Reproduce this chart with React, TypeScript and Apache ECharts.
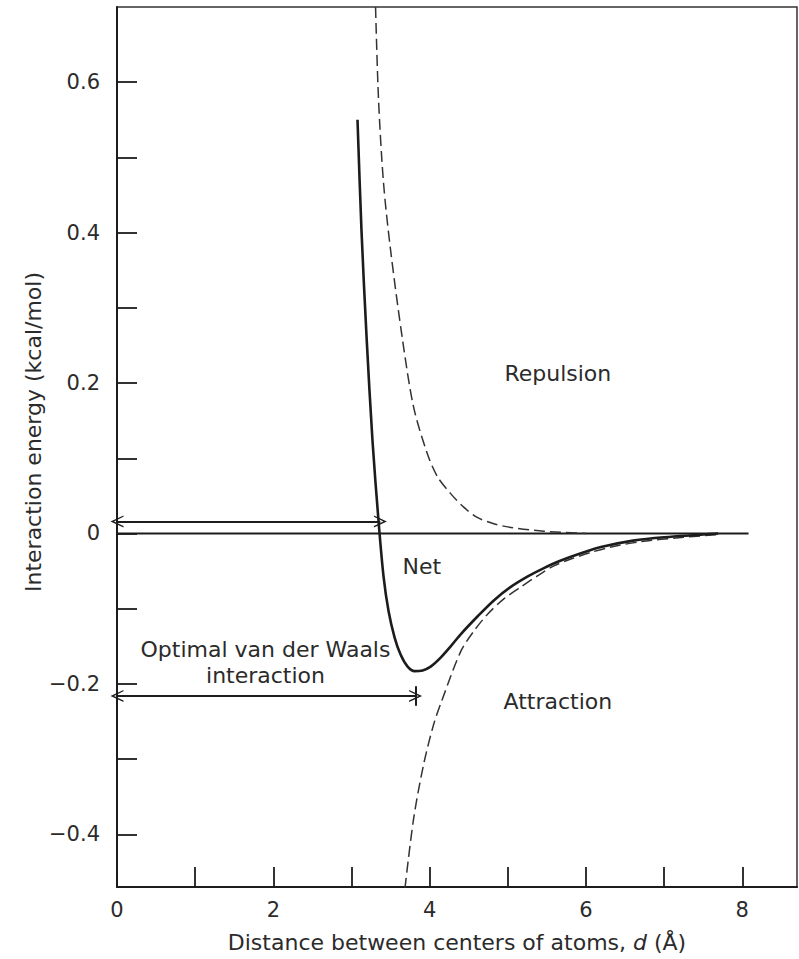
import React, { useEffect, useRef } from "react";
import * as echarts from "echarts";

// ---- data ----
const xTicks = [0, 1, 2, 3, 4, 5, 6, 7, 8];
const xTickLabels = [0, 2, 4, 6, 8];
const yTicks = [-0.4, -0.3, -0.2, -0.1, 0, 0.1, 0.2, 0.3, 0.4, 0.5, 0.6];
const yTickLabels = [-0.4, -0.2, 0, 0.2, 0.4, 0.6];

const netD = [3.077, 3.128, 3.192, 3.269, 3.346, 3.41, 3.474, 3.551, 3.628, 3.718, 3.808, 3.91, 4.013, 4.141, 4.269, 4.397, 4.615, 4.821, 5.038, 5.256, 5.462, 5.679, 5.974, 6.192, 6.603, 7.0, 7.692];
const netE = [0.55, 0.403, 0.263, 0.123, 0.0167, -0.057, -0.103, -0.138, -0.161, -0.177, -0.183, -0.182, -0.177, -0.165, -0.15, -0.134, -0.11, -0.089, -0.071, -0.057, -0.046, -0.036, -0.025, -0.018, -0.0095, -0.005, 0];

const repD = [3.308, 3.346, 3.41, 3.5, 3.654, 3.795, 3.974, 4.103, 4.269, 4.436, 4.615, 4.821, 5.038, 5.462, 6.0];
const repE = [0.7, 0.577, 0.466, 0.377, 0.257, 0.168, 0.105, 0.075, 0.053, 0.035, 0.021, 0.013, 0.008, 0.003, 0];

const attD = [3.684, 3.795, 3.923, 4.051, 4.167, 4.397, 4.564, 4.744, 4.949, 5.167, 5.385, 5.59, 5.808, 6.064, 6.321, 6.705, 7.218, 7.692];
const attE = [-0.472, -0.379, -0.307, -0.254, -0.219, -0.157, -0.13, -0.107, -0.087, -0.071, -0.056, -0.043, -0.034, -0.025, -0.018, -0.0107, -0.0053, -0.0013];

const zeroLineD = [0, 8.08];

// spans: [y, from, to]
const vdwSpan = [0.016, 0, 3.37];
const optimalSpan = [-0.216, 0, 3.82];
const optimalBar = [3.82, -0.203, -0.229];

const annotations: [number, number, string][] = [
  [5.64, 0.213, "Repulsion"],
  [3.9, -0.044, "Net"],
  [5.64, -0.223, "Attraction"],
  [1.9, -0.172, "Optimal van der Waals\ninteraction"],
];

const zip = (a: number[], b: number[]) => a.map((v, i) => [v, b[i]]);

const FONT = "DejaVu Sans";
const TXT = "#2b2b2b";
const INK = "#1c1c1c";
const CHEV = "path://M0,12 L6,0 L12,12 L10.6,12 L6,3.2 L1.4,12 Z";

const fmt = (v: number) => {
  if (Math.abs(v) < 1e-9) return "0";
  const s = Math.abs(v).toFixed(1);
  return v < 0 ? "\u2212" + s : s;
};

export default function App() {
  const ref = useRef<HTMLDivElement>(null);
  useEffect(() => {
    if (!ref.current) return;
    const chart = echarts.init(ref.current, undefined, { renderer: "svg" });
    const dashed = { color: "#333", width: 1.5, type: [11, 5] as any };
    chart.setOption({
      animation: false,
      backgroundColor: "#fff",
      textStyle: { fontFamily: FONT },
      grid: {
        left: 117,
        right: 2,
        top: 7,
        bottom: 72,
        show: true,
        borderColor: "#333",
        borderWidth: 1.5,
        backgroundColor: "transparent",
      },
      xAxis: {
        type: "value",
        min: 0,
        max: 8.7,
        name: "Distance between centers of atoms, {i|d} (\u00c5)",
        nameLocation: "middle",
        nameGap: 44,
        nameTextStyle: {
          fontFamily: FONT,
          fontSize: 22,
          color: TXT,
          rich: { i: { fontStyle: "italic", fontFamily: FONT, fontSize: 22, color: TXT } },
        },
        axisLine: { onZero: false, lineStyle: { color: INK, width: 2 } },
        axisTick: { inside: true, length: 20, customValues: xTicks, lineStyle: { color: INK, width: 1.8 } },
        axisLabel: {
          customValues: xTickLabels,
          margin: 12,
          fontSize: 21,
          color: TXT,
          fontFamily: FONT,
          formatter: (v: number) => String(Math.round(v)),
        },
        splitLine: { show: false },
      },
      yAxis: {
        type: "value",
        min: -0.47,
        max: 0.7,
        axisLine: { onZero: false, lineStyle: { color: INK, width: 2 } },
        axisTick: { inside: true, length: 20, customValues: yTicks, lineStyle: { color: INK, width: 1.8 } },
        axisLabel: {
          customValues: yTickLabels,
          margin: 17,
          fontSize: 21,
          color: TXT,
          fontFamily: FONT,
          formatter: fmt,
        },
        splitLine: { show: false },
      },
      graphic: [
        {
          type: "text",
          x: 33,
          y: 432,
          rotation: Math.PI / 2,
          style: {
            text: "Interaction energy (kcal/mol)",
            fontFamily: FONT,
            fontSize: 22,
            fill: TXT,
            align: "center",
            verticalAlign: "middle",
          },
        },
      ],
      series: [
        {
          name: "Zero",
          type: "line",
          data: zeroLineD.map((d) => [d, 0]),
          showSymbol: false,
          lineStyle: { color: INK, width: 2 },
          markLine: {
            silent: true,
            animation: false,
            symbolSize: [12, 13],
            lineStyle: { color: INK, width: 2, type: "solid" },
            label: { show: false },
            emphasis: { disabled: true },
            data: [
              [
                { coord: [vdwSpan[1], vdwSpan[0]], symbol: CHEV },
                { coord: [vdwSpan[2], vdwSpan[0]], symbol: CHEV },
              ],
              [
                { coord: [optimalSpan[1], optimalSpan[0]], symbol: CHEV },
                { coord: [optimalSpan[2], optimalSpan[0]], symbol: CHEV },
              ],
              [
                { coord: [optimalBar[0], optimalBar[1]], symbol: "none" },
                { coord: [optimalBar[0], optimalBar[2]], symbol: "none" },
              ],
            ],
          },
        },
        {
          name: "Repulsion",
          type: "line",
          data: zip(repD, repE),
          smooth: 0.3,
          showSymbol: false,
          lineStyle: dashed,
        },
        {
          name: "Attraction",
          type: "line",
          data: zip(attD, attE),
          smooth: 0.3,
          showSymbol: false,
          lineStyle: dashed,
        },
        {
          name: "Net",
          type: "line",
          data: zip(netD, netE),
          smooth: 0.3,
          showSymbol: false,
          lineStyle: { color: INK, width: 2.6 },
        },
        {
          name: "Labels",
          type: "scatter",
          data: annotations.map((a) => [a[0], a[1], a[2]]),
          symbolSize: 1,
          itemStyle: { color: "rgba(0,0,0,0)", opacity: 1 },
          emphasis: { disabled: true },
          label: {
            show: true,
            position: "inside",
            formatter: (p: any) => p.data[2],
            fontFamily: FONT,
            fontSize: 22,
            lineHeight: 26,
            color: TXT,
            opacity: 1,
            textBorderWidth: 0,
            align: "center",
            verticalAlign: "middle",
          },
        },
      ],
    });
    return () => chart.dispose();
  }, []);
  return (
    <div
      ref={ref}
      style={{ position: "fixed", left: 0, top: 0, width: 799, height: 959, background: "#fff" }}
    />
  );
}
